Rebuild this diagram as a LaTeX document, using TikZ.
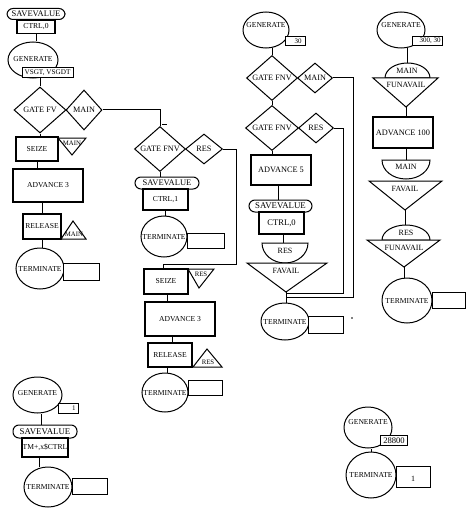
\documentclass[tikz,border=0pt]{standalone}
\usepackage{fontspec}
\setmainfont{Liberation Serif}
\usetikzlibrary{shapes.geometric}
\begin{document}
\begin{tikzpicture}[x=1pt,y=-1pt, line width=1pt,
  every node/.style={inner sep=0pt, font=\fontsize{7.6}{8}\selectfont},
  blk/.style={draw, rectangle, fill=white, line width=1.15pt},
  gbox/.style={draw, rectangle, fill=white, line width=1pt},
  oval/.style={draw, ellipse, fill=white},
  sv/.style={draw, rectangle, rounded corners=6pt, fill=white, font=\fontsize{8.5}{9}\selectfont},
  gate/.style={draw, diamond, fill=white, font=\fontsize{8.2}{9}\selectfont},
  small/.style={font=\fontsize{6.8}{7}\selectfont},
  tiny/.style={font=\fontsize{8}{8}\selectfont},
  big/.style={font=\fontsize{8.3}{9}\selectfont},
]
\useasboundingbox (0,0) rectangle (474,516);

% ---------------- Column 1
\node[sv, minimum width=58, minimum height=11] (sv1) at (36,14) {SAVEVALUE};
\node[blk, minimum width=38, minimum height=13] (c1) at (36,27) {CTRL,0};
\node[oval, minimum width=50, minimum height=36] (g1) at (33,60) {};
\node[gbox, minimum width=51, minimum height=10, font=\fontsize{7.2}{8}\selectfont] (g1b) at (47.5,73) {VSGT, VSGDT};
\node at (33,59) {GENERATE};
\node[gate, minimum width=52, minimum height=46] (d1) at (40,110) {GATE FV};
\node[gate, minimum width=36, minimum height=40] (d1m) at (84,110) {MAIN};
\node[blk, minimum width=42, minimum height=24] (s1) at (37,149) {SEIZE};
\draw[fill=white] (58,138) -- (86,138) -- (72,155) -- cycle;
\node[small] at (72,143) {MAIN};
\node[blk, minimum width=70, minimum height=33] (a1) at (48,185.5) {ADVANCE 3};
\node[blk, minimum width=38, minimum height=25] (r1) at (42,226.5) {RELEASE};
\draw[fill=white] (73,221) -- (86,239) -- (61,239) -- cycle;
\node[small] at (74,234) {MAIN};
\node[oval, minimum width=48, minimum height=41] (te1) at (40,268.5) {};
\node[gbox, minimum width=36, minimum height=17] (te1b) at (81,271.5) {};
\node at (40,268.5) {TERMINATE};

\draw (c1.south) -- (c1.south |- g1.north);
\draw (d1.north) -- (d1.north |- g1b.south);
\draw (d1.south) -- (d1.south |- s1.north);
\draw (s1.south) -- (s1.south |- a1.north);
\draw (r1.north) -- (r1.north |- a1.south);
\draw (r1.south) -- (r1.south |- te1.north);

% ---------------- Column 2
\node[gate, minimum width=51, minimum height=42] (d2) at (160,149) {GATE FNV};
\node[gate, minimum width=37, minimum height=30] (d2r) at (204,149) {RES};
\node[sv, minimum width=64, minimum height=12] (sv2) at (167,183) {SAVEVALUE};
\node[blk, minimum width=45, minimum height=21] (c2) at (165.5,199.5) {CTRL,1};
\node[oval, minimum width=46, minimum height=41] (te2) at (164,236.5) {};
\node[gbox, minimum width=37, minimum height=15] (te2b) at (205.5,240.5) {};
\node at (164,236.5) {TERMINATE};
\node[blk, minimum width=44, minimum height=25] (s2) at (166,281.5) {SEIZE};
\draw[fill=white] (188,269) -- (214,269) -- (199,288) -- cycle;
\node[small] at (201,274) {RES};
\node[blk, minimum width=70, minimum height=34] (a2) at (180,319) {ADVANCE 3};
\node[blk, minimum width=44, minimum height=24] (r2) at (170,355) {RELEASE};
\draw[fill=white] (207,349) -- (222,367) -- (193,367) -- cycle;
\node[small] at (208,362) {RES};
\node[oval, minimum width=46, minimum height=39] (te2c) at (165,392.5) {};
\node[gbox, minimum width=34, minimum height=15] (te2d) at (205,387.5) {};
\node at (165,392.5) {TERMINATE};

\draw (d1m.east) -| (d2.north);
\draw[line width=0.6pt] (162,124) -- (167,124);
\draw (d2.south) -- (d2.south |- sv2.north);
\draw (c2.south) -- (c2.south |- te2.north);
\coordinate (j2) at (236,264);
\draw (d2r.east) -| (j2) -| ([xshift=-3pt]s2.north);
\draw ([xshift=1pt]s2.south) -- ([xshift=1pt]s2.south |- a2.north);
\draw ([xshift=2pt]r2.north) -- ([xshift=2pt]r2.north |- a2.south);
\draw ([xshift=-3pt]r2.south) -- ([xshift=-3pt]r2.south |- te2c.north);

% ---------------- Column 3
\node[oval, minimum width=46, minimum height=36] (g3) at (266,30) {};
\node[gbox, minimum width=20, minimum height=9] (g3b) at (295,41) {};
\node[font=\fontsize{7}{7}\selectfont, anchor=east] at (302,41) {30};
\node at (266,25) {GENERATE};
\node[gate, minimum width=51, minimum height=42] (d3) at (272,78) {GATE FNV};
\node[gate, minimum width=35, minimum height=30] (d3m) at (315,78) {MAIN};
\node[gate, minimum width=53, minimum height=41] (d3b) at (272,128) {GATE FNV};
\node[gate, minimum width=35, minimum height=30] (d3r) at (316,128) {RES};
\node[blk, big, minimum width=60, minimum height=30] (a3) at (281,170) {ADVANCE 5};
\node[sv, font=\fontsize{8.8}{9}\selectfont, minimum width=63, minimum height=12] (sv3) at (280.5,206) {SAVEVALUE};
\node[blk, font=\fontsize{8.6}{9}\selectfont, minimum width=45, minimum height=22] (c3) at (281.5,223) {CTRL,0};
\draw[fill=white] (262,243) arc[start angle=180,end angle=0,x radius=23,y radius=20] -- cycle;
\coordinate (b3) at (283,243);
\node[tiny] at (285,251) {RES};
\draw[fill=white] (247,263) -- (327,263) -- (286,292) -- cycle;
\coordinate (f3) at (286,292);
\node[tiny] at (286,271) {FAVAIL};
\node[oval, minimum width=48, minimum height=37] (te3) at (285,321.5) {};
\node[gbox, minimum width=35, minimum height=17] (te3b) at (326,324.5) {};
\node at (285,321.5) {TERMINATE};
\fill (352,318) circle (0.8);

\draw (d3.north) -- (d3.north |- g3.south);
\draw (d3.south) -- (d3.south |- d3b.north);
\draw (d3b.south) -- (d3b.south |- a3.north);
\draw ([xshift=-3pt]a3.south) -- ([xshift=-3pt]a3.south |- sv3.north);
\draw ([xshift=1.5pt]c3.south) -- (b3);
\draw (f3) -- (f3 |- te3.north);
\coordinate (k3m) at (353,297);
\coordinate (jm) at (286,297);
\coordinate (k3r) at (343,293);
\coordinate (jr) at (286,293);
\draw (d3m.east) -| (k3m) -- (jm);
\draw (d3r.east) -| (k3r) -- (jr);

% ---------------- Column 4
\node[oval, minimum width=48, minimum height=36] (g4) at (401,30) {};
\node[gbox, minimum width=30, minimum height=9] (g4b) at (427,41) {};
\node[font=\fontsize{7}{7}\selectfont, anchor=east] at (441,41) {300, 30};
\node at (401,25) {GENERATE};
\draw[fill=white] (385,78) arc[start angle=180,end angle=360,x radius=22.5,y radius=15] -- cycle;
\coordinate (m4a) at (407,63);
\draw[fill=white] (373,78) -- (438,78) -- (406,107) -- cycle;
\coordinate (f4a) at (406,107);
\node[tiny] at (407,71) {MAIN};
\node[tiny] at (406,85) {FUNAVAIL};
\node[blk, big, minimum width=60, minimum height=31] (a4) at (403,132.5) {ADVANCE 100};
\draw[fill=white] (382,160) arc[start angle=180,end angle=0,x radius=24,y radius=19] -- cycle;
\coordinate (m4b) at (406,160);
\node[tiny] at (406,167) {MAIN};
\draw[fill=white] (369,181) -- (442,181) -- (405,210) -- cycle;
\coordinate (f4b) at (405,210);
\node[tiny] at (405,189) {FAVAIL};
\draw[fill=white] (382,240) arc[start angle=180,end angle=360,x radius=24,y radius=15] -- cycle;
\coordinate (r4) at (406,225);
\node[tiny] at (406,233) {RES};
\draw[fill=white] (367,240) -- (440,240) -- (404,267) -- cycle;
\coordinate (f4c) at (404,267);
\node[tiny] at (404,248) {FUNAVAIL};
\node[oval, minimum width=50, minimum height=45] (te4) at (407,300.5) {};
\node[gbox, minimum width=33, minimum height=16] (te4b) at (448.5,300) {};
\node at (407,300.5) {TERMINATE};

\draw (m4a) -- (m4a |- g4.south);
\draw (f4a) -- (f4a |- a4.north);
\draw (m4b) -- (m4b |- a4.south);
\draw (f4b) -- (f4b |- r4);
\draw (f4c) -- (f4c |- te4.north);

% ---------------- Bottom left
\node[oval, minimum width=49, minimum height=36] (g5) at (37.5,395) {};
\node[gbox, minimum width=20, minimum height=10] (g5b) at (68,408) {};
\node[font=\fontsize{7}{7}\selectfont, anchor=east] at (76,408) {1};
\node at (37.5,393) {GENERATE};
\node[sv, font=\fontsize{8.8}{9}\selectfont, minimum width=64, minimum height=13] (sv5) at (45,431.5) {SAVEVALUE};
\node[blk, minimum width=46, minimum height=19, font=\fontsize{7.6}{8}\selectfont] (c5) at (45,447.5) {TM+,x\$CTRL};
\node[oval, minimum width=48, minimum height=40] (te5) at (48,487) {};
\node[gbox, minimum width=35, minimum height=16] (te5b) at (89.5,486) {};
\node at (48,487) {TERMINATE};
\draw ([xshift=-4pt]sv5.north) -- ([xshift=-4pt]sv5.north |- g5.south);
\draw ([xshift=-6pt]c5.south) -- ([xshift=-6pt]c5.south |- te5.north);

% ---------------- Bottom right
\node[oval, minimum width=48, minimum height=41] (g6) at (368,427.5) {};
\node[gbox, minimum width=27, minimum height=10] (g6b) at (393.5,440) {};
\node[font=\fontsize{8.6}{9}\selectfont] at (394,440.5) {28800};
\node at (368,422) {GENERATE};
\node[oval, minimum width=50, minimum height=46] (te6) at (371,475) {};
\node[gbox, minimum width=34, minimum height=21] (te6b) at (413,476.5) {};
\node[font=\fontsize{8}{8}\selectfont] at (413,479) {1};
\node at (371,475) {TERMINATE};
\draw (te6.north) -- (te6.north |- g6.south);
\end{tikzpicture}
\end{document}
